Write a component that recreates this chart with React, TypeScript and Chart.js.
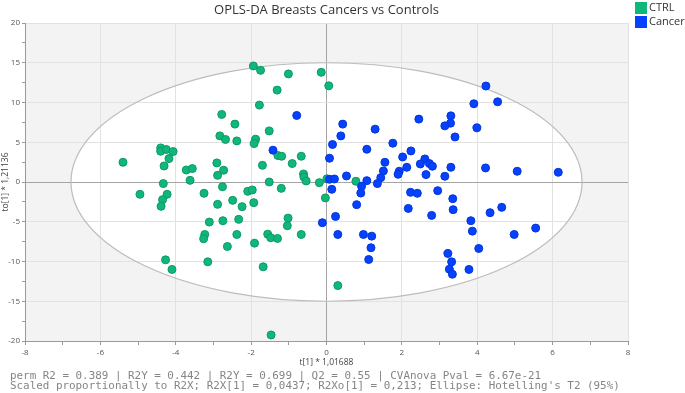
import React, { useEffect, useRef } from "react";
import { Chart, registerables } from "chart.js";

Chart.register(...registerables);

const TITLE = "OPLS-DA Breasts Cancers vs Controls";
const X_TITLE = "t[1] * 1,01688";
const Y_TITLE = "to[1] * 1,21136";
const FOOTER_LINES = [
  "perm R2 = 0.389 | R2Y = 0.442 | R2Y = 0.699 | Q2 = 0.55 | CVAnova Pval = 6.67e-21",
  "Scaled proportionally to R2X; R2X[1] = 0,0437; R2Xo[1] = 0,213; Ellipse: Hotelling's T2 (95%)",
];
const SERIES_NAMES = ["CTRL", "Cancer"];
const SERIES_COLORS = ["#10b77b", "#0641ff"];
const SERIES_BORDERS = ["#0b9a66", "#0436d6"];

const CTRL_X = [-1.94, -1.75, -1.01, -0.14, 0.06, -1.31, -1.78, -2.78, -2.43, -1.52, -2.83, -2.68, -2.38, -1.88, -1.92, -4.4, -4.4, -4.25, -4.07, -4.18, -5.4, -4.31, -2.91, -2.73, -2.89, -3.72, -3.56, -3.62, -4.33, -1.29, -1.19, -1.7, -0.91, -0.67, -0.61, -0.6, -0.54, -0.19, -1.52, -2.76, -1.2, -2.09, -1.97, -3.25, -4.95, -4.23, -4.35, -4.39, -2.89, -2.49, -2.24, -1.93, -3.11, -2.75, -2.33, -1.02, -1.04, -3.23, -3.26, -2.38, -1.56, -1.48, -1.3, -0.67, -1.91, -2.63, -4.27, -4.1, -3.15, -1.68, -1.47, -0.03, 0.01, 0.78, 0.3];
const CTRL_Y = [14.6, 14.05, 13.6, 13.8, 12.1, 11.56, 9.67, 8.5, 7.28, 6.43, 5.8, 5.35, 5.17, 5.38, 4.84, 4.29, 3.87, 4.09, 3.83, 2.95, 2.48, 2.02, 2.4, 1.48, 0.84, 1.51, 1.69, 0.21, -0.2, 3.33, 3.24, 2.1, 2.32, 3.24, 1.01, 0.63, 0.13, -0.08, 0.0, -0.6, -0.8, -1.17, -1.0, -1.42, -1.55, -1.55, -2.22, -3.06, -2.81, -2.31, -3.1, -2.6, -5.04, -4.87, -4.7, -4.54, -5.5, -6.6, -7.14, -6.6, -6.56, -7.01, -7.1, -6.6, -7.69, -8.11, -9.79, -11.0, -10.04, -10.67, -19.24, -2.0, 0.4, 0.09, -13.03];

const CANCER_X = [-0.79, -1.42, -0.11, 4.23, 3.91, 4.54, 2.45, 3.3, 3.29, 3.14, 3.99, 3.41, 0.43, 0.38, 1.29, 0.16, 1.76, 1.07, 2.24, 0.08, 2.02, 1.55, 2.61, 2.49, 2.73, 2.81, 2.13, 1.51, 1.93, 1.9, 1.44, 1.35, 2.64, 3.14, 3.3, 4.22, 5.06, 6.15, 0.53, 0.08, 0.21, 1.07, 0.93, 0.14, 2.23, 2.41, 2.95, 0.91, 0.8, 0.24, 0.3, 0.98, 1.2, 1.18, 1.12, 3.35, 2.17, 3.36, 2.79, 3.83, 4.34, 4.65, 3.87, 4.98, 5.55, 4.04, 3.22, 3.32, 3.26, 3.34, 3.78];
const CANCER_Y = [8.37, 4.0, -5.12, 12.07, 9.84, 10.09, 7.91, 8.32, 7.4, 7.06, 6.81, 5.67, 7.28, 5.8, 6.65, 4.72, 4.88, 4.12, 3.91, 2.99, 3.15, 2.48, 2.9, 2.27, 2.32, 1.98, 1.85, 1.39, 1.35, 0.97, 0.55, -0.2, 0.93, 0.72, 1.85, 1.77, 1.35, 1.22, 0.76, 0.34, 0.38, 0.17, -0.54, -0.92, -1.3, -1.42, -1.09, -1.39, -2.85, -4.33, -6.6, -6.6, -6.81, -8.27, -9.75, -2.1, -3.32, -3.48, -4.2, -4.87, -3.86, -3.19, -6.18, -6.6, -5.8, -8.36, -8.99, -10.04, -10.97, -11.6, -11.0];

const X_MIN = -8;
const X_MAX = 8;
const Y_MIN = -20;
const Y_MAX = 20;
const ELLIPSE_RX = 6.78;
const ELLIPSE_RY = 15;

const FONT = "'Open Sans', 'Noto Sans', sans-serif";
const MONO = "'DejaVu Sans Mono', 'Liberation Mono', monospace";

function ellipsePath(chart: any) {
  const { ctx, scales } = chart;
  const x = scales.x;
  const y = scales.y;
  const cx = x.getPixelForValue(0);
  const cy = y.getPixelForValue(0);
  const rx = Math.abs(x.getPixelForValue(ELLIPSE_RX) - cx);
  const ry = Math.abs(y.getPixelForValue(ELLIPSE_RY) - cy);
  ctx.beginPath();
  ctx.ellipse(cx, cy, rx, ry, 0, 0, Math.PI * 2);
}

const decorPlugin = {
  id: "decor",
  beforeDraw(chart: any) {
    const { ctx, chartArea: a } = chart;
    ctx.save();
    ctx.fillStyle = "#f3f3f3";
    ctx.fillRect(a.left, a.top, a.right - a.left, a.bottom - a.top);
    ellipsePath(chart);
    ctx.fillStyle = "#ffffff";
    ctx.fill();
    ctx.restore();
  },
  beforeDatasetsDraw(chart: any) {
    const { ctx } = chart;
    ctx.save();
    ellipsePath(chart);
    ctx.strokeStyle = "#bcbcbc";
    ctx.lineWidth = 1.2;
    ctx.stroke();
    ctx.restore();
  },
  afterDraw(chart: any) {
    const { ctx, chartArea: a } = chart;
    ctx.save();
    // title
    ctx.fillStyle = "#333333";
    ctx.font = `13px ${FONT}`;
    ctx.textAlign = "center";
    ctx.textBaseline = "middle";
    ctx.fillText(TITLE, (a.left + a.right) / 2, 10);
    // legend
    ctx.textAlign = "left";
    ctx.font = `11px ${FONT}`;
    SERIES_NAMES.forEach((name, i) => {
      const top = 2 + i * 14;
      ctx.fillStyle = SERIES_COLORS[i];
      ctx.fillRect(635, top, 12, 12);
      ctx.fillStyle = "#333333";
      ctx.fillText(name, 649, top + 6);
    });
    // footer
    ctx.fillStyle = "#858585";
    ctx.font = `10.9px ${MONO}`;
    FOOTER_LINES.forEach((line, i) => {
      ctx.fillText(line, 10, 376 + i * 10.5);
    });
    ctx.restore();
  },
};

export default function App() {
  const ref = useRef<HTMLCanvasElement | null>(null);

  useEffect(() => {
    document.body.style.margin = "0";
    const canvas = ref.current;
    if (!canvas) return;
    Chart.defaults.font.family = FONT;

    const gridColor = (c: any, step: number) => {
      const v = c.tick ? c.tick.value : 0;
      if (Math.abs(v) < 1e-9) return "#a4a4a4";
      if (Math.abs(v / step - Math.round(v / step)) < 1e-9) return "#e2e2e2";
      return "rgba(0,0,0,0)";
    };

    const chart = new Chart(canvas, {
      type: "scatter",
      data: {
        datasets: [
          {
            label: SERIES_NAMES[0],
            data: CTRL_X.map((x, i) => ({ x, y: CTRL_Y[i] })),
            backgroundColor: SERIES_COLORS[0],
            borderColor: SERIES_BORDERS[0],
            borderWidth: 1,
            pointRadius: 4,
            order: 1,
          },
          {
            label: SERIES_NAMES[1],
            data: CANCER_X.map((x, i) => ({ x, y: CANCER_Y[i] })),
            backgroundColor: SERIES_COLORS[1],
            borderColor: SERIES_BORDERS[1],
            borderWidth: 1,
            pointRadius: 4,
            order: 0,
          },
        ],
      },
      options: {
        animation: false,
        responsive: false,
        devicePixelRatio: 1,
        layout: { padding: { top: 23, right: 57, bottom: 25.6, left: 0 } },
        plugins: {
          legend: { display: false },
          title: { display: false },
          tooltip: { enabled: false },
        },
        scales: {
          x: {
            type: "linear",
            min: X_MIN,
            max: X_MAX,
            afterFit: (s: any) => {
              s.height = 26.4;
            },
            ticks: {
              stepSize: 1,
              autoSkip: false,
              maxRotation: 0,
              padding: 3,
              color: "#555555",
              font: { size: 8, family: FONT },
              callback: (v: any) => (Number(v) % 2 === 0 ? String(v) : ""),
            },
            grid: {
              color: (c: any) => gridColor(c, 2),
              tickColor: "#9a9a9a",
              tickLength: 4,
              lineWidth: 1,
            },
            border: { display: true, color: "#9a9a9a", width: 1 },
            title: {
              display: true,
              text: X_TITLE,
              color: "#444444",
              font: { size: 8.5, family: FONT },
              padding: 0,
            },
          },
          y: {
            type: "linear",
            min: Y_MIN,
            max: Y_MAX,
            afterFit: (s: any) => {
              s.width = 25;
            },
            ticks: {
              stepSize: 2.5,
              autoSkip: false,
              padding: 2,
              color: "#555555",
              font: { size: 8, family: FONT },
              callback: (v: any) => (Number(v) % 5 === 0 ? String(v) : ""),
            },
            grid: {
              color: (c: any) => gridColor(c, 5),
              tickColor: "#9a9a9a",
              tickLength: 3,
              lineWidth: 1,
            },
            border: { display: true, color: "#9a9a9a", width: 1 },
            title: {
              display: true,
              text: Y_TITLE,
              color: "#444444",
              font: { size: 8.5, family: FONT },
              padding: 0,
            },
          },
        },
      },
      plugins: [decorPlugin],
    });

    return () => {
      chart.destroy();
    };
  }, []);

  return (
    <div style={{ width: 685, height: 393 }}>
      <canvas ref={ref} width={685} height={393} style={{ display: "block" }} />
    </div>
  );
}
